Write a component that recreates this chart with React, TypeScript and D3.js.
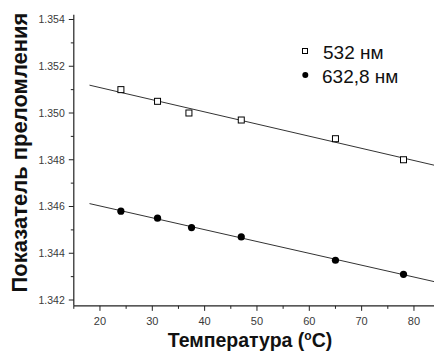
import React from "react";
import * as d3 from "d3";

// Temperature (°C) and refractive index for the two wavelengths
const temps532 = [24, 31, 37, 47, 65, 78];
const index532 = [1.351, 1.3505, 1.35, 1.3497, 1.3489, 1.348];
const temps633 = [24, 31, 37.5, 47, 65, 78];
const index633 = [1.3458, 1.3455, 1.3451, 1.3447, 1.3437, 1.3431];

const seriesNames = ["532 нм", "632,8 нм"];
const xTicks = [20, 30, 40, 50, 60, 70, 80];
const xMinorTicks = [15, 25, 35, 45, 55, 65, 75];
const yTicks = [1.342, 1.344, 1.346, 1.348, 1.35, 1.352, 1.354];
const yMinorTicks = [1.343, 1.345, 1.347, 1.349, 1.351, 1.353];
const fitRange = [18, 84];

const W = 434;
const H = 351;

function linearFit(xs: number[], ys: number[]) {
  const mx = d3.mean(xs)!;
  const my = d3.mean(ys)!;
  let sxy = 0;
  let sxx = 0;
  xs.forEach((x, i) => {
    sxy += (x - mx) * (ys[i] - my);
    sxx += (x - mx) * (x - mx);
  });
  const k = sxy / sxx;
  return (x: number) => my + k * (x - mx);
}

export default function App() {
  const x = d3.scaleLinear().domain([15, 84]).range([73.8, 434.9]);
  const y = d3.scaleLinear().domain([1.342, 1.354]).range([300, 19.5]);
  const axisY = y(1.34175);
  const axisX = x(15);
  const tickColor = "#222";
  const labelColor = "#3a3a3a";

  const fit532 = linearFit(temps532, index532);
  const fit633 = linearFit(temps633, index633);
  const fitLine = (f: (v: number) => number) =>
    d3.line<number>().x((t) => x(t)).y((t) => y(f(t)))(fitRange)!;

  return (
    <svg
      width={W}
      height={H}
      style={{ position: "absolute", left: 0, top: 0, background: "#fff" }}
      fontFamily="'Liberation Sans', Arial, sans-serif"
    >
      {/* axes */}
      <line x1={axisX} y1={axisY} x2={W} y2={axisY} stroke={tickColor} strokeWidth={1.2} />
      <line x1={axisX} y1={axisY} x2={axisX} y2={y(1.3542)} stroke={tickColor} strokeWidth={1.2} />

      {xTicks.map((t) => (
        <g key={"xt" + t}>
          <line x1={x(t)} x2={x(t)} y1={axisY} y2={axisY + 5} stroke={tickColor} />
          <text x={x(t)} y={axisY + 19} fontSize={11} fill={labelColor} textAnchor="middle">
            {t}
          </text>
        </g>
      ))}
      {xMinorTicks.map((t) => (
        <line key={"xm" + t} x1={x(t)} x2={x(t)} y1={axisY} y2={axisY + 3} stroke={tickColor} />
      ))}
      {yTicks.map((v) => (
        <g key={"yt" + v}>
          <line x1={axisX - 5} x2={axisX} y1={y(v)} y2={y(v)} stroke={tickColor} />
          <text x={axisX - 9} y={y(v) + 3.8} fontSize={10.5} fill={labelColor} textAnchor="end">
            {d3.format(".3f")(v)}
          </text>
        </g>
      ))}
      {yMinorTicks.map((v) => (
        <line key={"ym" + v} x1={axisX - 3} x2={axisX} y1={y(v)} y2={y(v)} stroke={tickColor} />
      ))}

      {/* fitted lines */}
      <path d={fitLine(fit532)} fill="none" stroke="#333" strokeWidth={1} />
      <path d={fitLine(fit633)} fill="none" stroke="#333" strokeWidth={1} />

      {/* data points */}
      {temps532.map((t, i) => (
        <rect
          key={"s" + i}
          x={x(t) - 3}
          y={y(index532[i]) - 3}
          width={6}
          height={6}
          fill="#fff"
          stroke="#000"
          strokeWidth={1}
        />
      ))}
      {temps633.map((t, i) => (
        <circle key={"c" + i} cx={x(t)} cy={y(index633[i])} r={3.6} fill="#000" />
      ))}

      {/* legend */}
      <rect x={302.5} y={48.5} width={5} height={5} fill="#fff" stroke="#000" strokeWidth={1} />
      <text x={323} y={59} fontSize={19} fill="#111">
        {seriesNames[0]}
      </text>
      <circle cx={305.3} cy={75} r={3} fill="#000" />
      <text x={322} y={83} fontSize={19} fill="#111">
        {seriesNames[1]}
      </text>

      {/* axis titles */}
      <text x={250} y={346.5} fontSize={19.5} fontWeight="bold" fill="#111" textAnchor="middle">
        Температура (<tspan dy={-7} fontSize={12}>o</tspan>
        <tspan dy={7}>C)</tspan>
      </text>
      <text
        transform={`translate(26.5,152.5) rotate(-90)`}
        fontSize={22}
        fontWeight="bold"
        fill="#111"
        textAnchor="middle"
      >
        Показатель преломления
      </text>
    </svg>
  );
}
